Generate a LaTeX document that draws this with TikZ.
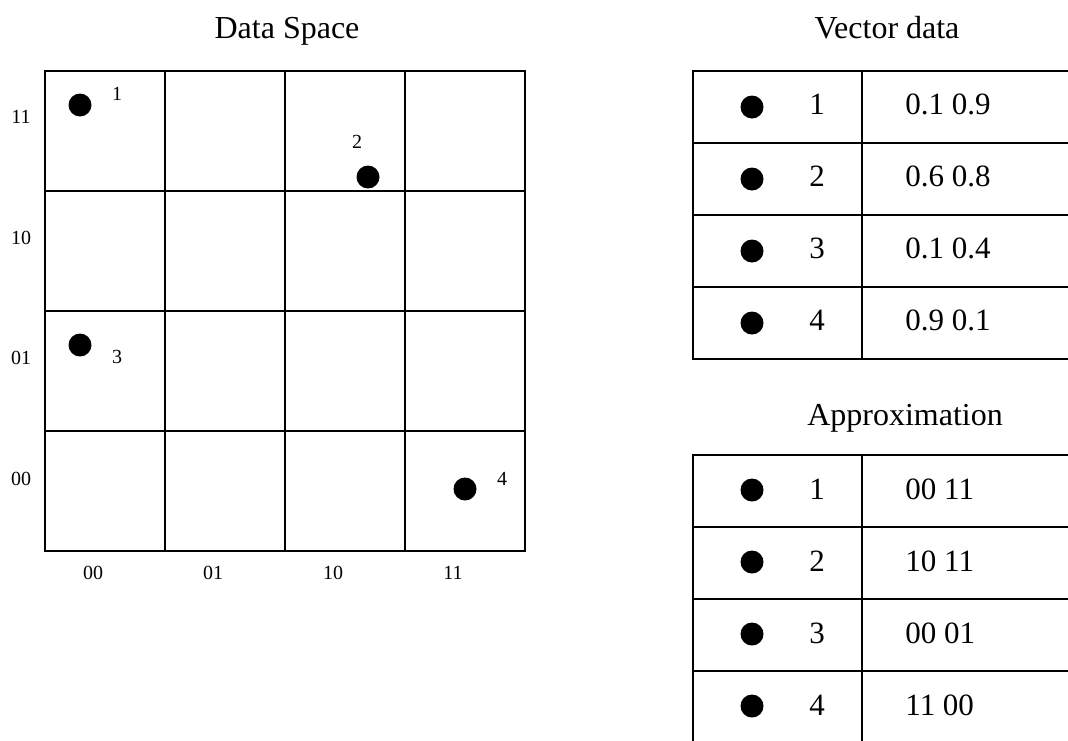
\documentclass[tikz,border=0pt]{standalone}
\usepackage{fontspec}
\setmainfont{Liberation Serif}
\usetikzlibrary{positioning}

\begin{document}
\begin{tikzpicture}[x=0.5pt, y=-0.5pt, every node/.style={inner sep=0pt},
  rule/.style ={line width=1pt, line cap=rect},
  pt/.style   ={circle, fill=black, minimum size=11.5pt},
  lbl/.style  ={font=\fontsize{10}{12}\selectfont},
  title/.style={font=\fontsize{16}{19}\selectfont, anchor=base},
  cell/.style ={font=\fontsize{15.5}{18}\selectfont}]
\useasboundingbox (0,0) rectangle (1068,740);
% data space: 4x4 grid of cells
\node[title] (dstitle) at (287,38) {Data Space};
\foreach \i in {0,...,4} {
  \draw[rule] (45+120*\i,71) -- (45+120*\i,551);
  \draw[rule] (45,71+120*\i) -- (525,71+120*\i);
}
\foreach \t [count=\k from 0] in {00,01,10,11} {\node[lbl] (xl\t) at (93+120*\k,573) {\t};}
\foreach \t [count=\k from 0] in {11,10,01,00} {\node[lbl] (yl\t) at (21,117+120.5*\k) {\t};}
\node[pt] (p1) at (80,105) {};  \node[lbl] (l1) at (117,94)  {1};
\node[pt] (p2) at (368,177) {}; \node[lbl] (l2) at (357,142) {2};
\node[pt] (p3) at (80,345) {};  \node[lbl] (l3) at (117,357) {3};
\node[pt] (p4) at (465,489) {}; \node[lbl] (l4) at (502,479) {4};
% vector data table
\node[title] (vdtitle) at (887,38) {Vector data};
\foreach \r in {0,...,4} {\draw[rule] (693,71+72*\r) -- (1068,71+72*\r);}
\draw[rule] (693,71) -- (693,359);
\draw[rule] (862,71) -- (862,359);
\foreach \v [count=\k] in {0.1 0.9, 0.6 0.8, 0.1 0.4, 0.9 0.1} {
  \node[pt] (vd\k) at (752,{107+72*(\k-1)}) {};
  \node[cell] (vn\k) at (817,{104+72*(\k-1)}) {\k};
  \node[cell, anchor=west] (vv\k) at (905,{104+72*(\k-1)}) {\v};
}
% approximation table
\node[title] (aptitle) at (905,425) {Approximation};
\foreach \r in {0,...,3} {\draw[rule] (693,455+72*\r) -- (1068,455+72*\r);}
\draw[rule] (693,455) -- (693,740);
\draw[rule] (862,455) -- (862,740);
\foreach \v [count=\k] in {00 11, 10 11, 00 01, 11 00} {
  \node[pt] (ap\k) at (752,{490+72*(\k-1)}) {};
  \node[cell] (an\k) at (817,{489+72*(\k-1)}) {\k};
  \node[cell, anchor=west] (av\k) at (905,{489+72*(\k-1)}) {\v};
}
\end{tikzpicture}
\end{document}
